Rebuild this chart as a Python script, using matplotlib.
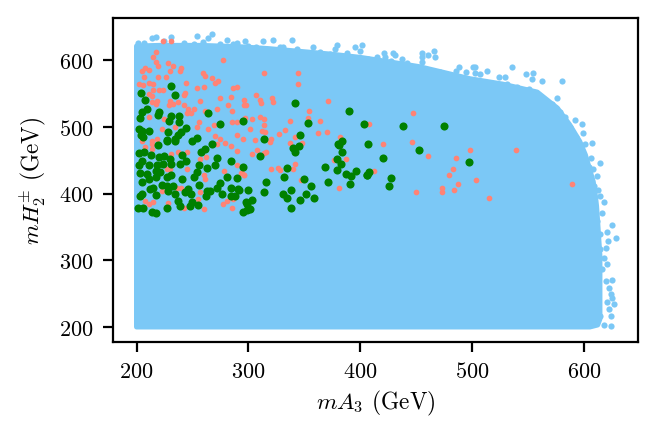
import matplotlib
matplotlib.use('Agg')
import matplotlib.pyplot as plt

plt.rcParams['font.family'] = 'cmr10'
plt.rcParams['mathtext.fontset'] = 'cm'
plt.rcParams['axes.formatter.use_mathtext'] = True
plt.rcParams['font.size'] = 8

# outline of the solid blue cloud
cloud_x = [200, 221, 257, 292, 319, 346, 373, 400, 427, 453, 498, 527, 558, 576, 587, 596, 601, 608, 610, 611, 612, 614, 614, 614, 612, 605, 200]
cloud_y = [621, 622, 622, 620, 617, 613, 609, 604, 597, 590, 572, 564, 552, 528, 503, 478, 458, 418, 396, 381, 357, 306, 257, 212, 203, 200, 200]

# loose blue points sticking out of the outline
edge_x = [254, 267, 231, 217, 214, 259, 264, 281, 297, 313, 322, 339, 201, 207, 275, 290, 307, 328,
          358, 379, 377, 395, 401, 400, 421, 429, 431, 437, 455, 460, 466, 467, 427, 442, 455, 488, 501, 485, 494, 465, 459, 476,
          535, 548, 554, 553, 562, 580, 513, 502, 524, 529, 551, 576, 567, 592, 598, 599, 583, 607, 601, 606, 614, 608, 611, 614, 612,
          618, 616, 625, 628, 621, 620, 619, 618, 620, 619, 625, 622, 624, 625, 627, 620, 622, 624, 624, 618,
          364, 373, 388, 415, 407, 422, 455, 471, 507, 502, 511, 521, 531, 540, 552, 556, 565, 571, 575, 578, 587, 593, 601, 604, 609,
          225, 242, 251, 286, 300, 316, 331, 343, 611, 614, 614, 616, 614]
edge_y = [636, 639, 635, 634, 633, 627, 633, 630, 628, 628, 630, 630, 625, 626, 624, 626, 619, 619,
          619, 622, 616, 619, 622, 613, 611, 611, 607, 602, 610, 607, 613, 604, 598, 595, 597, 590, 590, 584, 582, 583, 586, 559,
          590, 579, 580, 571, 568, 568, 584, 590, 574, 575, 557, 543, 537, 510, 504, 490, 514, 475, 474, 453, 445, 436, 426, 397, 405,
          387, 371, 353, 334, 329, 343, 318, 304, 294, 269, 270, 258, 249, 244, 234, 237, 227, 216, 202, 203,
          612, 609, 611, 604, 601, 604, 604, 582, 579, 580, 566, 564, 564, 559, 551, 546, 539, 534, 528, 522, 499, 484, 452, 439, 412,
          628, 626, 624, 624, 621, 617, 619, 617, 359, 339, 317, 287, 217]

salmon_x = [224, 231, 277, 217, 215, 217, 219, 228, 233, 230, 240, 239, 208, 205, 211, 219, 226, 207, 202, 211, 215, 206, 244,
            259, 261, 267, 270, 273, 314, 344, 344, 286, 290, 254, 260, 220, 224, 215, 211, 214, 243, 242, 275, 284, 296, 307,
            321, 322, 310, 311, 296, 298, 282, 285, 257, 230, 218, 214, 217, 237, 233, 229, 242, 246, 251, 245, 249, 261, 272,
            211, 225, 297, 303, 310, 314, 314, 337, 285, 290, 269, 256, 254, 264, 301, 312, 315, 327, 333, 290, 270, 275, 306,
            320, 342, 218, 214, 223, 234, 371, 354, 353, 364, 447, 408, 362, 370, 382, 446, 420,
            460, 498, 485, 539, 483, 479, 503, 487, 473, 484, 473, 450, 515, 412, 589,
            295, 319, 337, 348, 308, 303, 316, 314, 376, 387, 342, 320, 326, 328, 340, 293, 296, 347, 381,
            205, 208, 214, 214, 237, 245, 272, 279, 284, 290, 257, 262, 231, 290, 278, 294, 296, 261, 260,
            227, 230, 245, 236, 240, 223, 257, 255, 208, 211, 215, 228, 242, 260, 281, 285, 286, 277]
salmon_y = [628, 628, 600, 612, 605, 597, 591, 595, 591, 583, 588, 583, 588, 583, 585, 575, 574, 574, 564, 566, 564, 563, 566,
            580, 576, 573, 566, 568, 581, 581, 564, 558, 560, 558, 559, 555, 555, 555, 549, 546, 551, 547, 543, 544, 540, 548,
            543, 537, 540, 536, 533, 533, 533, 523, 538, 539, 539, 537, 534, 537, 534, 532, 532, 527, 527, 520, 520, 523, 527,
            514, 511, 513, 511, 514, 511, 502, 509, 507, 507, 503, 507, 500, 497, 497, 493, 492, 489, 495, 488, 486, 482, 480,
            482, 484, 482, 478, 497, 500, 538, 523, 513, 508, 520, 504, 490, 492, 484, 477, 474,
            456, 465, 453, 465, 436, 427, 420, 414, 409, 405, 402, 403, 393, 433, 415,
            482, 477, 475, 475, 465, 459, 462, 460, 450, 451, 444, 436, 438, 435, 436, 430, 427, 420, 409,
            478, 469, 474, 467, 462, 462, 474, 476, 471, 463, 452, 454, 459, 443, 433, 430, 427, 422, 428,
            436, 437, 437, 409, 409, 404, 403, 392, 389, 385, 387, 386, 378, 377, 389, 379, 392, 384]

green_x = [231, 204, 234, 208, 264, 209, 205, 203, 220, 219, 231, 229, 238, 238, 275, 295, 342, 202, 205, 211, 204, 206, 228,
           244, 240, 237, 234, 227, 250, 254, 314, 346, 390, 353, 403, 438, 475, 384, 380, 407,
           310, 381, 340, 345, 342, 384, 379, 383, 379, 368, 334, 295, 332, 350, 316, 314, 300, 292, 356, 371, 387, 392, 396, 391,
           406, 338, 331, 334, 351, 346, 359, 338, 303, 299, 299, 295,
           452, 420, 497, 408, 406, 427, 426,
           219, 227, 234, 267, 261, 258, 241, 202, 207, 213, 220, 225, 230, 205, 202, 211, 218, 224, 231, 239, 244, 272, 284, 270,
           256, 263, 203, 209, 217, 221, 227, 231, 205, 211, 217, 241, 254, 251, 256, 281, 290, 275, 272, 276, 284, 291, 288, 284,
           263, 266, 262, 246, 243, 249, 223, 227, 233, 212, 215, 228, 234, 205, 203, 217, 237, 239, 250, 248, 255, 227, 201, 206,
           214, 217, 298, 301]
green_y = [561, 551, 547, 540, 520, 527, 522, 513, 522, 517, 516, 509, 516, 507, 504, 508, 535, 497, 494, 493, 488, 485, 492,
           498, 492, 487, 482, 480, 479, 483, 481, 488, 523, 505, 504, 501, 501, 479, 474, 474,
           456, 472, 468, 471, 462, 462, 451, 444, 435, 439, 438, 439, 424, 422, 417, 403, 405, 406, 412, 417, 429, 426, 433, 414,
           427, 406, 400, 393, 400, 391, 394, 378, 391, 385, 375, 372,
           465, 453, 447, 432, 427, 423, 411,
           472, 479, 479, 474, 467, 462, 458, 461, 462, 458, 454, 456, 452, 449, 443, 442, 442, 444, 444, 444, 448, 453, 449, 443,
           442, 438, 430, 429, 434, 432, 424, 427, 418, 422, 424, 422, 432, 424, 413, 424, 423, 416, 409, 400, 408, 407, 396, 396,
           404, 404, 396, 407, 403, 399, 413, 411, 412, 407, 408, 404, 399, 399, 396, 398, 389, 382, 387, 382, 383, 379, 379, 378,
           373, 371, 387, 377]

blue = '#7bc8f6'

fig, ax = plt.subplots(figsize=(3.29, 2.175), dpi=200)
fig.subplots_adjust(left=113 / 658, right=638 / 658, top=1 - 19 / 435, bottom=1 - 343 / 435)

ax.fill(cloud_x, cloud_y, facecolor=blue, edgecolor=blue, linewidth=1.8, joinstyle='round')
ax.scatter(edge_x, edge_y, s=5, color=blue, linewidths=0)
ax.scatter(salmon_x, salmon_y, s=4.2, color='#ff8375', linewidths=0)
ax.scatter(green_x, green_y, s=8.5, color='green', linewidths=0)

ax.set_xlim(179, 648)
ax.set_ylim(177.5, 663)
ax.set_xticks([200, 300, 400, 500, 600])
ax.set_yticks([200, 300, 400, 500, 600])
ax.set_xlabel(r'$mA_3$ (GeV)', fontsize=8.4, labelpad=2.5)
ax.set_ylabel(r'$mH_2^{\pm}$ (GeV)', fontsize=8.4)

fig.savefig('out.png', dpi=200)
